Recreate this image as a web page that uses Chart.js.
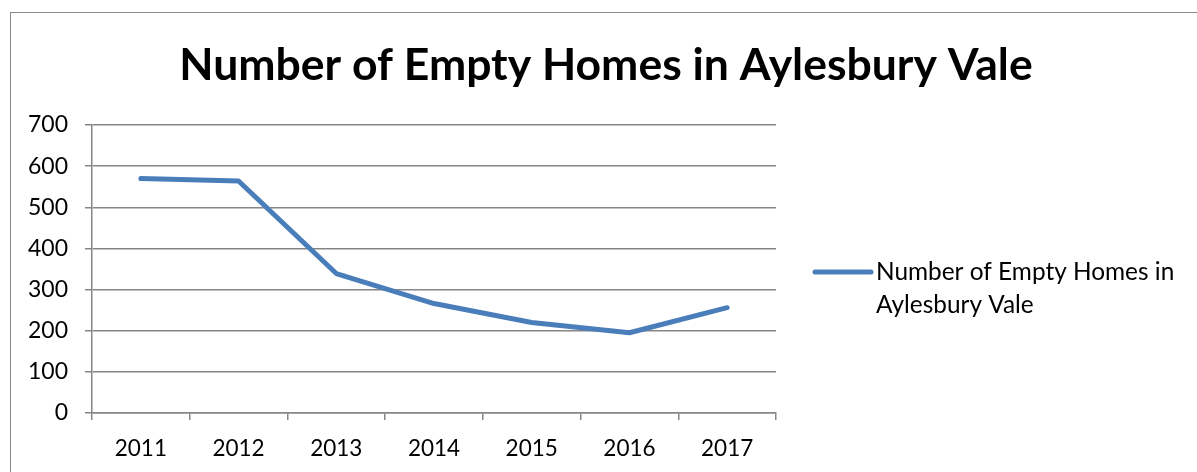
<!DOCTYPE html>
<html>
<head>
<meta charset="utf-8">
<script src="https://cdn.jsdelivr.net/npm/chart.js@4.4.1/dist/chart.umd.min.js"></script>
<style>
  html, body { margin: 0; padding: 0; background: #fff; }
  #wrap { position: absolute; left: 0; top: 0; width: 1197px; height: 472px; }
</style>
</head>
<body>
<div id="wrap"><canvas id="c" width="1197" height="472"></canvas></div>
<script>
const categories = ['2011', '2012', '2013', '2014', '2015', '2016', '2017'];
const emptyHomes = [570, 564, 339, 266, 220, 195, 256];
const seriesLabel = 'Number of Empty Homes in Aylesbury Vale';
const legendLines = ['Number of Empty Homes in', 'Aylesbury Vale'];
const titleText = 'Number of Empty Homes in Aylesbury Vale';

const FONT = 'Lato, "Liberation Sans", sans-serif';
const GRID = '#868686';
const BLUE = '#4A7EBB';

const framePlugin = {
  id: 'frame',
  beforeDraw(chart) {
    const ctx = chart.ctx;
    ctx.save();
    ctx.fillStyle = '#fff';
    ctx.fillRect(0, 0, chart.width, chart.height);
    ctx.strokeStyle = '#8a8a8a';
    ctx.lineWidth = 1;
    ctx.strokeRect(10.5, 12.5, 1300, 600);
    ctx.restore();
  }
};

const sideLegend = {
  id: 'sideLegend',
  afterDraw(chart) {
    const ctx = chart.ctx;
    const ds = chart.data.datasets[0];
    const x0 = chart.chartArea.right + 39;
    const y0 = 272;
    ctx.save();
    ctx.strokeStyle = ds.borderColor;
    ctx.lineWidth = ds.borderWidth;
    ctx.lineCap = 'round';
    ctx.beginPath();
    ctx.moveTo(x0, y0);
    ctx.lineTo(x0 + 56, y0);
    ctx.stroke();
    ctx.fillStyle = '#000';
    ctx.font = '24.4px ' + FONT;
    ctx.textBaseline = 'middle';
    ctx.textAlign = 'left';
    legendLines.forEach((t, i) => ctx.fillText(t, x0 + 61, y0 + i * 33));
    ctx.restore();
  }
};

new Chart(document.getElementById('c'), {
  type: 'line',
  data: {
    labels: categories,
    datasets: [{
      label: seriesLabel,
      data: emptyHomes,
      borderColor: BLUE,
      backgroundColor: BLUE,
      borderWidth: 5,
      pointRadius: 0,
      pointHoverRadius: 0,
      tension: 0,
      borderCapStyle: 'round',
      borderJoinStyle: 'round'
    }]
  },
  options: {
    responsive: false,
    animation: false,
    events: [],
    layout: { padding: { left: 15, right: 0, top: 0, bottom: 0 } },
    plugins: {
      legend: { display: false },
      tooltip: { enabled: false },
      title: {
        display: true,
        text: titleText,
        color: '#000',
        font: { family: FONT, size: 44.5, weight: 'bold', lineHeight: 1.2 },
        padding: { top: 39, bottom: 32.6 }
      }
    },
    scales: {
      x: {
        type: 'category',
        offset: true,
        grid: {
          offset: true,
          drawOnChartArea: false,
          drawTicks: true,
          tickLength: 7,
          color: GRID,
          lineWidth: 1.5
        },
        border: { display: true, color: GRID, width: 1.5 },
        ticks: {
          color: '#000',
          font: { family: FONT, size: 22.5 },
          padding: 15,
          maxRotation: 0
        },
        afterFit(scale) { scale.height = 59; }
      },
      y: {
        min: 0,
        max: 700,
        grid: {
          color: GRID,
          lineWidth: 1.5,
          drawTicks: true,
          tickLength: 7
        },
        border: { display: true, color: GRID, width: 1.5 },
        ticks: {
          stepSize: 100,
          color: '#000',
          font: { family: FONT, size: 23 },
          padding: 17
        },
        afterFit(scale) { scale.width = 77; }
      },
      legendSpace: {
        type: 'linear',
        position: 'right',
        display: true,
        grid: { display: false, drawOnChartArea: false },
        border: { display: false },
        ticks: { display: false },
        afterFit(scale) { scale.width = 421; }
      }
    }
  },
  plugins: [framePlugin, sideLegend]
});
</script>
</body>
</html>
